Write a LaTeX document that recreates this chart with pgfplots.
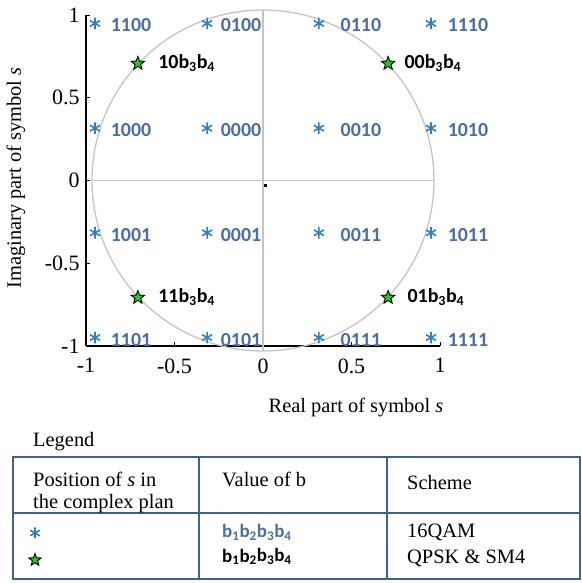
\documentclass[border=0pt]{standalone}
\usepackage{pgfplots}
\pgfplotsset{compat=1.18}
\usepackage{fontspec}
\setmainfont{Liberation Serif}
\newfontfamily\lbl{Carlito}
\definecolor{qamblue}{HTML}{2E7FC4}
\definecolor{lblblue}{HTML}{4A6EA8}
\definecolor{tblue}{HTML}{41618F}
\definecolor{sgreen}{HTML}{22CC22}
\definecolor{cgray}{HTML}{C4C4C4}
\pgfdeclareplotmark{fstar}{%
  \pgfpathmoveto{\pgfpointpolar{90}{\pgfplotmarksize}}%
  \pgfpathlineto{\pgfpointpolar{126}{0.42\pgfplotmarksize}}%
  \pgfpathlineto{\pgfpointpolar{162}{\pgfplotmarksize}}%
  \pgfpathlineto{\pgfpointpolar{198}{0.42\pgfplotmarksize}}%
  \pgfpathlineto{\pgfpointpolar{234}{\pgfplotmarksize}}%
  \pgfpathlineto{\pgfpointpolar{270}{0.42\pgfplotmarksize}}%
  \pgfpathlineto{\pgfpointpolar{306}{\pgfplotmarksize}}%
  \pgfpathlineto{\pgfpointpolar{342}{0.42\pgfplotmarksize}}%
  \pgfpathlineto{\pgfpointpolar{18}{\pgfplotmarksize}}%
  \pgfpathlineto{\pgfpointpolar{54}{0.42\pgfplotmarksize}}%
  \pgfpathclose
  \pgfusepathqfillstroke}
\pgfplotsset{
  qam/.style={only marks, mark=asterisk, mark size=5.8bp, mark options={draw=qamblue, line width=1.6bp},
    nodes near coords, point meta=explicit symbolic,
    every node near coord/.append style={anchor=west, inner sep=0pt, yshift=-2bp,
      font=\lbl\bfseries\fontsize{20}{20}\selectfont, text=lblblue}},
  qpsk/.style={only marks, mark=fstar, mark size=7bp, mark options={draw=black, fill=sgreen, line width=0.9bp},
    nodes near coords, point meta=explicit symbolic,
    every node near coord/.append style={anchor=west, inner sep=0pt,
      font=\lbl\bfseries\fontsize{20}{20}\selectfont, text=black}},
}
\begin{document}
\begin{tikzpicture}
\useasboundingbox (0,0) rectangle (582bp,583bp);
\begin{axis}[at={(86bp,237bp)}, anchor=south west, scale only axis,
  width=354bp, height=331bp,
  xmin=-1, xmax=1, ymin=-1, ymax=1,
  axis lines=left, axis line style={-, line width=1.7bp, black},
  xtick={-1,-0.5,0,0.5,1}, ytick={-1,-0.5,0,0.5,1},
  tick align=inside, major tick length=4bp, tick style={black, line width=0.8bp},
  ticklabel style={font=\fontsize{22}{22}\selectfont},
  /pgf/number format/assume math mode=true,
  xticklabel style={yshift=-9bp}, yticklabel style={xshift=-3bp},
  clip=false]
\draw[cgray, line width=1.3bp] (axis cs:0,0) ellipse [x radius=0.966, y radius=1.03];
\addplot[cgray, line width=1.5bp, forget plot] coordinates {(-0.966,0) (0.966,0)};
\addplot[cgray, line width=1.5bp, forget plot] coordinates {(0,-1.03) (0,1.03)};
\addplot[only marks, mark=square*, mark size=1bp, black] coordinates {(0.01,-0.03)};
\addplot[qam, every node near coord/.append style={xshift=15bp}] coordinates {
  (-0.949,0.949) [1100] (-0.949,0.316) [1000] (-0.949,-0.316) [1001] (-0.949,-0.949) [1101]};
\addplot[qam, every node near coord/.append style={xshift=13bp}] coordinates {
  (-0.316,0.949) [0100] (-0.316,0.316) [0000] (-0.316,-0.316) [0001] (-0.316,-0.949) [0101]};
\addplot[qam, every node near coord/.append style={xshift=21bp}] coordinates {
  (0.316,0.949) [0110] (0.316,0.316) [0010] (0.316,-0.316) [0011] (0.316,-0.949) [0111]};
\addplot[qam, every node near coord/.append style={xshift=16bp}] coordinates {
  (0.949,0.949) [1110] (0.949,0.316) [1010] (0.949,-0.316) [1011] (0.949,-0.949) [1111]};
\addplot[qpsk, every node near coord/.append style={xshift=20bp}] coordinates {
  (-0.707,0.707) [10b\textsubscript{3}b\textsubscript{4}]
  (-0.707,-0.707) [11b\textsubscript{3}b\textsubscript{4}]};
\addplot[qpsk, every node near coord/.append style={xshift=16bp}] coordinates {
  (0.707,0.707) [00b\textsubscript{3}b\textsubscript{4}]};
\addplot[qpsk, every node near coord/.append style={xshift=19bp}] coordinates {
  (0.707,-0.707) [01b\textsubscript{3}b\textsubscript{4}]};
\end{axis}
% legend markers
\begin{axis}[at={(0bp,0bp)}, anchor=south west, scale only axis,
  width=582bp, height=583bp, xmin=0, xmax=582, ymin=0, ymax=583,
  hide axis, clip=false]
\addplot[only marks, mark=asterisk, mark size=5.5bp, mark options={draw=qamblue, line width=1.6bp}] coordinates {(35,50)};
\addplot[only marks, mark=fstar, mark size=6.5bp, mark options={draw=black, fill=sgreen, line width=0.9bp}] coordinates {(35,23)};
\end{axis}
% axis labels
\node[font=\fontsize{20.5}{20.5}\selectfont] at (356bp,175bp) {Real part of symbol \textit{s}};
\node[rotate=90, font=\fontsize{20.5}{20.5}\selectfont] at (16bp,405bp) {Imaginary part of symbol \textit{s}};
% legend table
\begin{scope}[font=\fontsize{20.5}{22}\selectfont]
\node[anchor=base west, inner sep=0pt] at (33bp,136bp) {Legend};
\draw[tblue, line width=1.8bp] (13bp,4bp) rectangle (580bp,126bp);
\draw[tblue, line width=1.8bp] (13bp,70bp) -- (580bp,70bp);
\draw[tblue, line width=1.8bp] (199bp,4bp) -- (199bp,126bp);
\draw[tblue, line width=1.8bp] (387bp,4bp) -- (387bp,126bp);
\node[anchor=base west, inner sep=0pt] at (33bp,96bp) {Position of \textit{s} in};
\node[anchor=base west, inner sep=0pt] at (33bp,74bp) {the complex plan};
\node[anchor=base west, inner sep=0pt] at (222bp,96bp) {Value of b};
\node[anchor=base west, inner sep=0pt] at (407bp,93bp) {Scheme};
\node[anchor=base west, inner sep=0pt, text=lblblue, font=\lbl\bfseries\fontsize{19}{19}\selectfont] at (222bp,45bp) {b\textsubscript{1}b\textsubscript{2}b\textsubscript{3}b\textsubscript{4}};
\node[anchor=base west, inner sep=0pt, font=\lbl\bfseries\fontsize{19}{19}\selectfont] at (222bp,21bp) {b\textsubscript{1}b\textsubscript{2}b\textsubscript{3}b\textsubscript{4}};
\node[anchor=base west, inner sep=0pt] at (407bp,45bp) {16QAM};
\node[anchor=base west, inner sep=0pt] at (407bp,20bp) {QPSK \& SM4};
\end{scope}
\end{tikzpicture}
\end{document}
